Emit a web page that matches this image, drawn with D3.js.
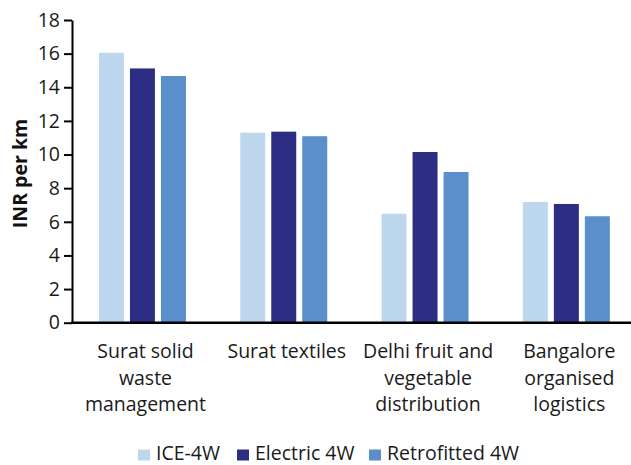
<!DOCTYPE html>
<html>
<head>
<meta charset="utf-8">
<script src="https://cdn.jsdelivr.net/npm/d3@7"></script>
<style>
  html, body { margin: 0; padding: 0; background: #fff; }
  svg { display: block; font-family: "Open Sans", sans-serif; }
</style>
</head>
<body>
<svg id="chart" width="631" height="465"></svg>
<script>
// ---- data ----
const categories = [
  ["Surat solid", "waste", "management"],
  ["Surat textiles"],
  ["Delhi fruit and", "vegetable", "distribution"],
  ["Bangalore", "organised", "logistics"]
];
const seriesNames = ["ICE-4W", "Electric 4W", "Retrofitted 4W"];
const iceValues = [16.05, 11.3, 6.48, 7.18];
const electricValues = [15.12, 11.36, 10.15, 7.06];
const retrofitValues = [14.67, 11.09, 8.96, 6.33];
const yTicks = [0, 2, 4, 6, 8, 10, 12, 14, 16, 18];

// ---- styles ----
const colors = ["#BDD7EE", "#2E2D84", "#5B8FCB"];
const fontSize = 19.5;

const svg = d3.select("#chart");
const catKeys = categories.map(c => c.join(" "));
const seriesValues = [iceValues, electricValues, retrofitValues];

const x0 = d3.scaleBand().domain(catKeys).range([71.8, 637]).padding(0);
const x1 = d3.scaleBand().domain(seriesNames).range([0, x0.bandwidth()])
  .paddingInner(0.194).paddingOuter(0.876);
const y = d3.scaleLinear().domain([0, 18]).range([322.7, 20]);

// bars
const groups = svg.append("g").selectAll("g")
  .data(catKeys)
  .join("g")
  .attr("transform", d => `translate(${x0(d)},0)`);

groups.selectAll("rect")
  .data((d, i) => seriesNames.map((s, j) => ({ s, j, v: seriesValues[j][i] })))
  .join("rect")
  .attr("x", d => x1(d.s))
  .attr("width", x1.bandwidth())
  .attr("y", d => y(d.v))
  .attr("height", d => y(0) - y(d.v))
  .attr("fill", d => colors[d.j]);

// y axis
const yAxis = svg.append("g")
  .attr("transform", "translate(72,0)")
  .call(d3.axisLeft(y).tickValues(yTicks).tickSize(8).tickPadding(4).tickSizeOuter(0));
yAxis.select(".domain").attr("stroke", "#000").attr("stroke-width", 2);
yAxis.selectAll(".tick line").attr("stroke", "#000").attr("stroke-width", 2);
yAxis.selectAll(".tick text")
  .attr("font-family", "Open Sans, sans-serif")
  .attr("font-size", fontSize)
  .attr("fill", "#1a1a1a");

// x axis line
svg.append("line")
  .attr("x1", 71).attr("x2", 631)
  .attr("y1", y(0)).attr("y2", y(0))
  .attr("stroke", "#000").attr("stroke-width", 2.4);

// category labels
const labels = svg.append("g").selectAll("text")
  .data(categories)
  .join("text")
  .attr("text-anchor", "middle")
  .attr("font-size", fontSize)
  .attr("fill", "#1a1a1a")
  .attr("transform", (d, i) => `translate(${x0(catKeys[i]) + x0.bandwidth() / 2 + 3},358)`);
labels.selectAll("tspan")
  .data(d => d)
  .join("tspan")
  .attr("x", 0)
  .attr("y", (d, i) => i * 26.5)
  .text(d => d);

// y axis title
svg.append("text")
  .attr("transform", "translate(26.5,173.5) rotate(-90)")
  .attr("text-anchor", "middle")
  .attr("font-size", fontSize)
  .attr("font-weight", "bold")
  .attr("fill", "#111")
  .text("INR per km");

// legend
const legendX = [138, 237, 369];
const legend = svg.append("g").selectAll("g")
  .data(seriesNames)
  .join("g")
  .attr("transform", (d, i) => `translate(${legendX[i]},0)`);
legend.append("rect")
  .attr("x", 0).attr("y", 449.5).attr("width", 12).attr("height", 11)
  .attr("fill", (d, i) => colors[i]);
legend.append("text")
  .attr("x", 18).attr("y", 459.5)
  .attr("font-size", fontSize)
  .attr("fill", "#1a1a1a")
  .text(d => d);
</script>
</body>
</html>
